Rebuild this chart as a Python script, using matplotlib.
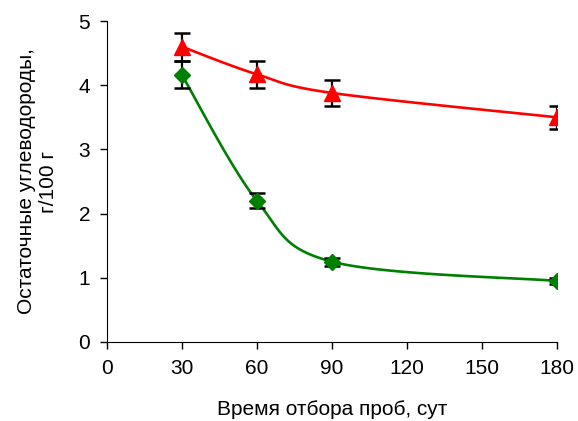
import matplotlib.pyplot as plt
import numpy as np

plt.rcParams['font.family'] = ['Liberation Sans', 'DejaVu Sans']

days = [30, 60, 90, 180]
red_vals = [4.60, 4.17, 3.88, 3.50]
red_err = [0.22, 0.21, 0.20, 0.18]
green_vals = [4.16, 2.20, 1.25, 0.95]
green_err = [0.21, 0.12, 0.06, 0.05]

x_ticks = [0, 30, 60, 90, 120, 150, 180]
y_ticks = [0, 1, 2, 3, 4, 5]


def smooth(x, y, n=40):
    # Excel-style smoothed line: cubic Bezier with Catmull-Rom control points
    x = np.asarray(x, float)
    y = np.asarray(y, float)
    px = np.concatenate([[x[0]], x, [x[-1]]])
    py = np.concatenate([[y[0]], y, [y[-1]]])
    xs, ys = [], []
    t = np.linspace(0, 1, n)
    for i in range(1, len(px) - 2):
        p0 = np.array([px[i], py[i]])
        p3 = np.array([px[i + 1], py[i + 1]])
        c1 = p0 + (np.array([px[i + 1], py[i + 1]]) - np.array([px[i - 1], py[i - 1]])) / 6
        c2 = p3 - (np.array([px[i + 2], py[i + 2]]) - np.array([px[i], py[i]])) / 6
        b = ((1 - t) ** 3)[:, None] * p0 + (3 * (1 - t) ** 2 * t)[:, None] * c1 \
            + (3 * (1 - t) * t ** 2)[:, None] * c2 + (t ** 3)[:, None] * p3
        xs.extend(b[:, 0])
        ys.extend(b[:, 1])
    return xs, ys


fig = plt.figure(figsize=(5.78, 4.21), dpi=100)
ax = fig.add_axes([0.185, 0.188, 0.778, 0.762])

sx, sy = smooth(days, green_vals)
ax.plot(sx, sy, color='#008000', linewidth=1.9, zorder=2)
sx, sy = smooth(days, red_vals)
ax.plot(sx, sy, color='#FF0000', linewidth=1.9, zorder=2)

ax.errorbar(days, green_vals, yerr=green_err, fmt='none', ecolor='black',
            elinewidth=1.6, capsize=5.5, capthick=1.8, zorder=3)
ax.errorbar(days, red_vals, yerr=red_err, fmt='none', ecolor='black',
            elinewidth=1.6, capsize=5.5, capthick=1.8, zorder=3)

ax.plot(days, green_vals, linestyle='none', marker='D', markersize=8,
        color='#008000', zorder=4)
ax.plot(days, red_vals, linestyle='none', marker='^', markersize=11,
        color='#FF0000', zorder=4)

ax.set_xlim(0, 180)
ax.set_ylim(0, 5)
ax.set_xticks(x_ticks)
ax.set_yticks(y_ticks)
ax.tick_params(direction='out', length=5, width=1, labelsize=15, pad=7)
ax.spines['top'].set_visible(False)
ax.spines['right'].set_visible(False)
ax.spines['left'].set_clip_on(False)

ax.set_xlabel('Время отбора проб, сут', fontsize=15, labelpad=16)
ax.set_ylabel('Остаточные углеводороды,\nг/100 г', fontsize=15, labelpad=15)

fig.savefig('out.png', dpi=100)
